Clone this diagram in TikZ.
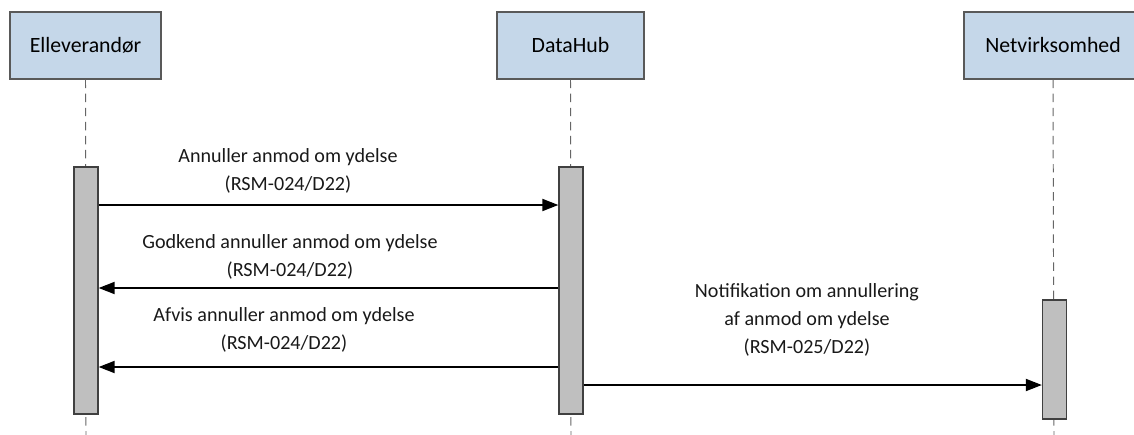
\documentclass[tikz,border=0pt]{standalone}
\usepackage{fontspec}
\setmainfont{Carlito}
\usetikzlibrary{arrows.meta}
\definecolor{hdrblue}{RGB}{197,215,233}
\definecolor{barfill}{RGB}{191,191,191}
\begin{document}
\begin{tikzpicture}[
    x=0.025cm, y=-0.025cm,
    font=\fontsize{15.5}{19.9}\selectfont,
    hdr/.style={draw=black!65, line width=0.9pt, fill=hdrblue, minimum height=1.675cm, inner sep=0pt},
    bar/.style={draw=black!75, line width=0.9pt, fill=barfill, minimum width=0.6cm, inner sep=0pt},
    life/.style={black!60, line width=0.7pt, dash pattern=on 6pt off 4pt},
    msg/.style={line width=1.3pt, -{Triangle[length=4mm, width=3mm]}},
    lbl/.style={align=center, text=black!90, font=\fontsize{14.3}{19.9}\selectfont}
]
    \useasboundingbox (0,0) rectangle (1134,435);
    \clip (0,0) rectangle (1134,435);

    \node[hdr, minimum width=3.775cm] (ell) at (85.5,45.5) {Elleverandør};
    \node[hdr, minimum width=3.675cm] (dh) at (570.5,45.5) {DataHub};
    \node[hdr, minimum width=4.45cm] (net) at (1053,45.5) {Netvirksomhed};

    \coordinate (ellend) at (86,435);
    \coordinate (dhend) at (571,435);
    \coordinate (netend) at (1054,435);
    \draw[life] (ell.south) -- (ellend);
    \draw[life] (dh.south) -- (dhend);
    \draw[life] (net.south) -- (netend);

    \node[bar, minimum height=6.175cm] (ellbar) at (86,290.5) {};
    \node[bar, minimum height=6.175cm] (dhbar) at (571,290.5) {};
    \node[bar, minimum height=2.975cm] (netbar) at (1054.5,359.5) {};

    \draw[msg] (ellbar.east |- 0,205) -- (dhbar.west |- 0,205);
    \node[lbl] (m1) at (288,171) {Annuller anmod om ydelse\\(RSM-024/D22)};

    \draw[msg] (dhbar.west |- 0,288) -- (ellbar.east |- 0,288);
    \node[lbl] (m2) at (290,257) {Godkend annuller anmod om ydelse\\(RSM-024/D22)};

    \draw[msg] (dhbar.west |- 0,367) -- (ellbar.east |- 0,367);
    \node[lbl] (m3) at (284,330) {Afvis annuller anmod om ydelse\\(RSM-024/D22)};

    \draw[msg] (dhbar.east |- 0,385) -- (netbar.west |- 0,385);
    \node[lbl] (m4) at (807,320) {Notifikation om annullering\\af anmod om ydelse\\(RSM-025/D22)};
\end{tikzpicture}
\end{document}
